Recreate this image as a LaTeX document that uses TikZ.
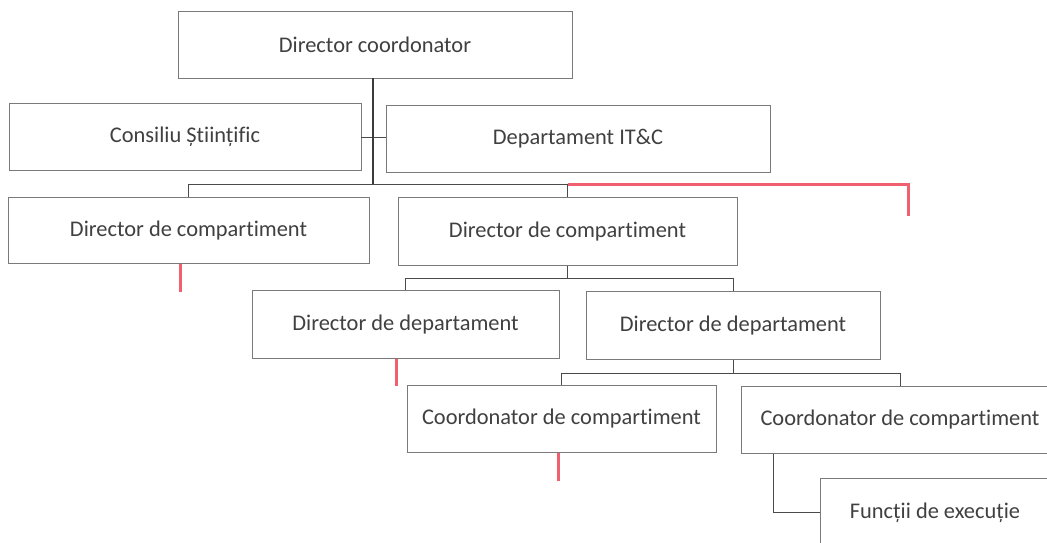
\documentclass[tikz,border=0pt]{standalone}
\usepackage{fontspec}
\setmainfont[Ligatures=NoCommon]{Carlito}
\definecolor{boxline}{HTML}{7A7A7A}
\definecolor{txt}{HTML}{404040}
\definecolor{conn}{HTML}{4A4A4A}
\definecolor{redl}{HTML}{F0606E}
\begin{document}
\begin{tikzpicture}[x=1pt,y=-1pt,
  orgbox/.style={draw=boxline,line width=0.9pt,fill=white,text=txt,inner sep=0pt,
    font=\fontsize{22.4}{27}\selectfont},
  link/.style={draw=conn,line width=1pt},
  trunk/.style={draw=conn!80!black,line width=2pt},
  redlink/.style={draw=redl,line width=3pt}]
\useasboundingbox (0,0) rectangle (1047,542);
\clip (0,0) rectangle (1047,542);
\node[orgbox,minimum width=394pt,minimum height=67pt] (A) at (375,44.5) {Director coordonator};
\node[orgbox,minimum width=352pt,minimum height=67pt] (B) at (185,137) {Consiliu Științific};
\node[orgbox,minimum width=384pt,minimum height=67pt] (C) at (578,139) {Departament IT\&C};
\node[orgbox,minimum width=361pt,minimum height=66pt] (D) at (188.5,230.5) {Director de compartiment};
\node[orgbox,minimum width=339pt,minimum height=68pt] (E) at (567.5,231.5) {Director de compartiment};
\node[orgbox,minimum width=307pt,minimum height=68pt] (F) at (405.5,324.5) {Director de departament};
\node[orgbox,minimum width=294pt,minimum height=68pt] (G) at (733,325.5) {Director de departament};
\node[orgbox,minimum width=309pt,minimum height=67pt] (H) at (561.5,419) {Coordonator de compartiment};
\node[orgbox,minimum width=318pt,minimum height=67pt] (I) at (900,420) {Coordonator de compartiment};
\node[orgbox,minimum width=230pt,minimum height=68pt] (J) at (935,512.5) {Funcții de execuție};
\coordinate (b1) at (0,184);
\coordinate (b2) at (0,278);
\coordinate (b3) at (0,373);
\coordinate (t1) at (373,0);
\coordinate (r1) at (908,216);
\coordinate (r2) at (180,292);
\coordinate (r3) at (396,386);
\coordinate (r4) at (558,481);
\coordinate (c5) at (773,0);
% level 1
\draw[link] (B.east) -- (B.east -| C.west);
\draw[trunk] (t1 |- A.south) -- (t1 |- b1);
\draw[link] (D.north) |- (b1 -| E.north) -- (E.north);
\draw[redlink] (b1 -| E.north) -| (r1);
\draw[redlink] (r2 |- D.south) -- (r2);
% level 2
\draw[link,line width=1.5pt] (E.south) -- (E.south |- b2);
\draw[link] (F.north) |- (b2 -| G.north) -- (G.north);
\draw[redlink] (r3 |- F.south) -- (r3);
% level 3
\draw[link] (G.south) -- (G.south |- b3);
\draw[link] (H.north) |- (b3 -| I.north) -- (I.north);
\draw[redlink] (r4 |- H.south) -- (r4);
% level 4
\draw[link] (c5 |- I.south) |- (J.west);
\end{tikzpicture}
\end{document}
